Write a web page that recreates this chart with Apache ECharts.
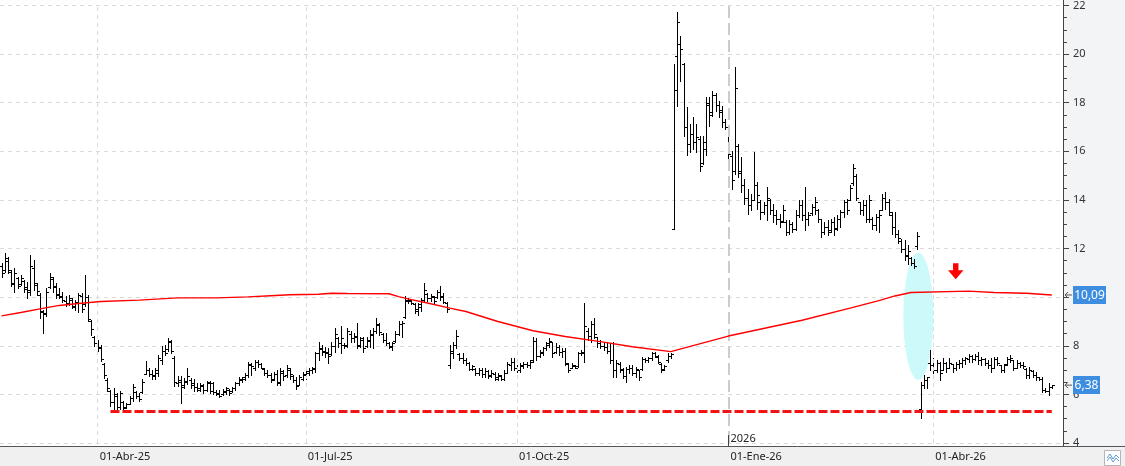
<!DOCTYPE html>
<html>
<head>
<meta charset="utf-8">
<script src="https://cdn.jsdelivr.net/npm/echarts@6/dist/echarts.min.js"></script>
<style>
html,body{margin:0;padding:0;background:#fff;}
#chart{width:1125px;height:466px;}
</style>
</head>
<body>
<div id="chart"></div>
<script>
// dias habiles desde el 18-feb-25
var primerDia = [2025, 1, 18];
var numDias = 332;
var meses = ['Ene','Feb','Mar','Abr','May','Jun','Jul','Ago','Sep','Oct','Nov','Dic'];

// [apertura, cierre, minimo, maximo]
var ohlc = [
  // 0
  [11.30,10.98,10.85,11.39],[11.10,11.60,11.05,11.80],[11.50,11.10,10.98,11.66],[11.05,10.55,10.44,11.12],[10.60,11.00,10.23,11.19],
  [10.80,10.45,10.37,10.85],[10.55,10.80,10.50,10.91],[10.65,10.35,10.23,10.71],[10.40,10.20,9.96,10.64],[10.30,11.30,10.10,11.73],
  // 10
  [11.20,10.60,10.30,11.53],[10.50,10.25,10.10,10.57],[10.10,9.45,9.14,10.16],[9.40,9.35,8.53,9.48],[9.30,10.20,9.21,10.37],
  [10.40,10.85,10.37,10.98],[10.75,10.40,10.23,10.85],[10.45,10.10,9.96,10.57],[10.15,10.05,9.96,10.37],[10.00,9.90,9.82,10.23],
  // 20
  [9.85,9.75,9.62,10.03],[9.75,9.95,9.69,10.10],[9.90,9.65,9.55,9.96],[9.60,9.80,9.48,9.89],[9.80,10.10,9.41,10.16],
  [10.05,9.50,9.41,10.16],[9.70,10.00,9.62,10.91],[10.00,9.10,9.00,10.10],[9.00,8.70,8.46,9.07],[8.35,8.10,7.98,8.39],
  // 30
  [8.10,7.90,7.78,8.25],[7.95,7.45,7.37,8.05],[7.25,6.80,6.68,7.30],[6.60,6.25,6.14,6.68],[6.15,5.70,5.53,6.20],
  [5.70,6.00,5.39,6.28],[5.95,5.50,5.39,6.07],[5.50,6.05,5.39,6.14],[5.70,5.45,5.39,5.73],[5.50,5.60,5.46,5.66],
  // 40
  [5.62,5.85,5.59,5.93],[5.85,6.30,5.73,6.41],[6.10,5.95,5.87,6.14],[5.95,5.80,5.73,6.07],[6.10,6.50,6.07,6.62],
  [6.85,7.00,6.82,7.37],[7.00,6.85,6.75,7.09],[6.85,6.80,6.62,7.02],[6.75,7.00,6.62,7.09],[6.90,7.50,6.75,7.64],
  // 50
  [7.40,7.80,7.23,7.98],[7.80,7.70,7.64,8.05],[7.85,8.15,7.78,8.32],[8.20,7.80,7.71,8.25],[7.50,6.50,6.34,7.57],
  [6.45,6.60,6.34,6.75],[6.50,6.30,5.66,6.75],[6.40,6.55,6.28,6.68],[6.50,6.75,6.41,7.09],[6.60,6.40,6.28,6.68],
  // 60
  [6.45,6.30,6.14,6.62],[6.30,6.20,6.14,6.48],[6.25,6.40,6.14,6.48],[6.35,6.20,6.07,6.41],[6.20,6.50,6.14,6.55],
  [6.45,6.15,6.07,6.55],[6.45,6.10,6.03,6.51],[6.10,6.05,5.96,6.17],[6.00,5.95,5.89,6.17],[6.00,6.15,5.96,6.24],
  // 70
  [6.10,6.25,6.03,6.31],[6.20,6.05,5.96,6.24],[6.15,6.25,6.10,6.31],[6.25,6.45,6.17,6.51],[6.45,6.65,6.38,6.72],
  [6.60,6.70,6.51,6.72],[6.65,6.80,6.58,6.86],[6.80,7.25,6.72,7.34],[7.20,7.15,6.79,7.28],[7.10,7.35,7.00,7.41],
  // 80
  [7.35,7.25,7.14,7.41],[7.25,7.10,7.07,7.28],[7.05,6.90,6.79,7.07],[6.90,6.80,6.72,7.00],[6.80,6.60,6.51,6.86],
  [6.65,6.85,6.58,6.93],[6.85,6.45,6.38,7.00],[6.50,6.95,6.38,7.07],[6.90,6.75,6.58,7.00],[6.80,7.10,6.72,7.21],
  // 90
  [7.00,6.85,6.65,7.07],[6.75,6.60,6.51,6.79],[6.60,6.35,6.24,6.72],[6.40,6.70,6.38,6.79],[6.65,6.85,6.58,6.93],
  [6.80,6.95,6.65,7.00],[6.90,7.00,6.79,7.07],[7.00,7.10,6.86,7.14],[7.05,7.70,6.93,7.76],[7.70,7.90,7.41,8.17],
  // 100
  [7.85,7.75,7.62,8.04],[7.80,7.70,7.55,7.97],[7.75,7.60,7.28,7.90],[7.65,8.00,7.62,8.17],[8.00,8.50,7.76,8.73],
  [8.30,8.10,7.97,8.38],[8.10,8.30,7.69,8.80],[8.05,8.00,7.90,8.11],[8.05,8.60,7.97,8.73],[8.50,8.30,8.17,8.59],
  // 110
  [8.30,8.35,8.17,8.52],[8.40,8.00,7.90,8.94],[8.05,8.30,7.97,8.38],[8.25,7.90,7.76,8.38],[8.00,8.25,7.97,8.38],
  [8.20,8.50,7.97,8.66],[8.45,8.60,7.90,8.73],[8.60,8.90,8.52,9.14],[8.85,8.55,8.45,8.94],[8.50,8.25,8.17,8.52],
  // 120
  [8.25,8.10,8.04,8.52],[8.10,8.00,7.90,8.17],[7.95,8.10,7.83,8.17],[8.20,8.50,8.17,8.59],[8.50,8.90,8.45,9.00],
  [8.90,8.95,8.38,9.00],[9.20,9.90,9.14,10.04],[9.85,9.90,9.76,9.97],[9.85,9.75,9.70,9.90],[9.70,9.50,9.35,9.76],
  // 130
  [9.45,9.70,9.28,9.76],[9.60,9.90,9.42,9.97],[9.90,10.30,9.83,10.59],[10.15,9.95,9.83,10.18],[9.95,10.05,9.83,10.11],
  [10.00,9.85,9.76,10.04],[10.00,10.20,9.96,10.30],[10.20,10.00,9.89,10.44],[10.05,9.80,9.75,10.17],[9.75,9.50,9.41,9.82],
  // 140
  [7.20,7.80,7.07,8.03],[7.70,8.05,7.48,8.17],[8.05,8.40,7.90,8.65],[7.65,7.50,7.41,7.69],[7.50,7.40,7.28,7.69],
  [7.40,7.30,7.21,7.48],[7.30,7.05,7.00,7.35],[7.05,7.15,7.00,7.21],[7.05,6.90,6.80,7.07],[6.90,7.00,6.80,7.07],
  // 150
  [7.00,6.85,6.73,7.07],[6.85,6.95,6.73,7.07],[6.95,6.75,6.66,7.00],[6.80,6.90,6.73,7.00],[6.85,6.65,6.59,6.93],
  [6.70,6.80,6.59,6.86],[6.75,6.62,6.59,6.80],[6.65,6.90,6.59,7.00],[6.90,7.25,6.86,7.35],[7.20,7.35,7.00,7.48],
  // 160
  [7.35,7.10,7.00,7.48],[7.10,7.00,6.93,7.21],[7.00,7.20,6.93,7.28],[7.15,7.25,7.07,7.35],[7.25,7.20,7.14,7.35],
  [7.20,7.35,7.07,7.41],[7.40,8.20,7.35,8.38],[8.20,7.60,7.41,8.31],[7.60,7.75,7.55,7.83],[7.70,7.90,7.62,7.96],
  // 170
  [7.90,8.10,7.83,8.17],[8.05,8.20,7.96,8.31],[8.15,7.70,7.55,8.17],[7.75,7.95,7.69,8.10],[7.95,7.75,7.62,8.03],
  [7.75,7.80,7.55,7.90],[7.80,7.30,7.21,7.90],[7.25,7.00,6.93,7.28],[7.10,7.20,7.07,7.28],[7.15,7.10,7.07,7.21],
  // 180
  [7.15,7.70,7.14,7.76],[7.70,7.75,7.62,7.83],[7.70,8.80,7.35,9.75],[8.60,8.40,8.24,8.72],[8.40,8.90,8.17,9.00],
  [8.90,8.50,8.31,9.13],[8.35,8.10,7.96,8.38],[8.10,8.00,7.90,8.24],[8.00,7.95,7.83,8.17],[7.95,7.80,7.69,8.17],
  // 190
  [7.80,7.40,7.28,8.10],[7.40,7.00,6.73,8.17],[7.00,7.30,6.73,7.41],[7.25,7.05,6.93,7.35],[7.00,6.75,6.66,7.07],
  [6.75,7.05,6.52,7.14],[7.05,7.10,6.86,7.21],[7.10,6.90,6.80,7.21],[6.90,7.05,6.73,7.14],[7.00,6.70,6.59,7.00],
  // 200
  [7.05,7.45,7.00,7.55],[7.45,7.40,7.35,7.48],[7.40,7.50,7.35,7.55],[7.50,7.70,7.41,7.76],[7.70,7.60,7.55,7.76],
  [7.55,7.35,7.28,7.62],[7.25,7.00,6.93,7.28],[7.05,7.15,7.00,7.21],[7.40,7.60,7.35,7.69],[7.60,7.65,7.48,7.69],
  // 210
  [12.82,18.52,12.82,19.58],[19.92,21.32,17.87,21.73],[20.40,20.20,18.90,20.74],[19.60,17.00,16.64,19.65],[17.00,16.30,15.83,17.81],
  [16.30,16.70,15.96,17.12],[16.70,16.40,16.10,17.40],[16.40,16.60,15.96,17.12],[16.50,15.40,15.21,16.64],[15.50,16.40,15.48,16.64],
  // 220
  [16.10,18.00,15.83,18.22],[17.90,17.50,17.05,18.22],[17.60,18.30,17.46,18.49],[18.30,17.90,17.67,18.42],[17.90,17.60,17.40,18.08],
  [17.70,17.20,16.99,17.87],[17.20,17.00,16.92,17.33],[17.00,15.90,15.48,17.05],[15.80,14.80,14.46,16.03],[15.20,18.60,15.07,19.45],
  // 230
  [16.20,15.10,14.94,16.30],[15.20,14.60,14.32,15.76],[14.60,14.10,13.84,14.87],[14.10,13.80,13.43,14.46],[13.80,14.00,13.57,14.25],
  [14.00,14.60,13.98,15.96],[14.60,14.20,13.64,14.73],[13.90,13.50,13.23,13.98],[13.50,13.80,13.43,13.91],[13.80,14.10,13.16,14.53],
  // 240
  [14.00,13.60,13.43,14.05],[13.60,13.40,13.09,13.84],[13.40,13.20,13.02,13.57],[13.20,13.10,12.89,13.43],[13.15,13.60,13.09,13.78],
  [13.10,12.70,12.55,13.16],[12.70,13.00,12.61,13.16],[13.00,12.80,12.68,13.09],[12.80,13.40,12.75,13.57],[13.40,13.80,13.30,13.98],
  // 250
  [13.80,13.40,13.16,13.98],[13.40,13.20,12.75,14.53],[13.20,13.40,12.96,13.50],[13.45,13.70,13.37,13.84],[13.70,13.90,13.43,14.12],
  [13.60,13.20,13.09,13.64],[13.20,12.70,12.48,13.23],[12.70,12.90,12.61,13.09],[12.90,12.70,12.55,13.16],[12.75,13.10,12.68,13.23],
  // 260
  [13.10,12.80,12.55,13.30],[12.85,13.20,12.75,13.37],[13.20,13.50,12.89,13.57],[13.50,13.90,13.30,13.98],[13.90,13.60,13.43,14.05],
  [14.00,14.50,13.98,14.60],[14.70,15.30,14.60,15.48],[15.00,14.10,13.98,15.07],[13.90,13.60,13.43,13.91],[13.60,13.80,13.37,13.98],
  // 270
  [13.80,13.20,13.09,13.98],[13.20,14.00,13.09,14.19],[13.20,12.95,12.82,13.30],[12.95,13.30,12.75,13.43],[13.30,13.40,12.68,13.57],
  [13.60,14.10,13.57,14.25],[14.10,13.90,13.64,14.32],[13.90,13.50,13.37,14.05],[13.40,12.90,12.61,13.50],[12.90,12.60,12.48,13.50],
  // 280
  [12.60,12.45,12.21,12.75],[12.30,12.00,11.86,12.41],[12.00,11.70,11.52,12.34],[11.75,11.90,11.38,12.14],[11.60,11.40,11.32,11.66],
  [11.40,11.30,11.18,11.59],[12.10,12.50,12.00,12.68],[5.40,6.40,5.01,6.52],[6.40,6.60,6.25,6.79],[6.60,6.70,6.25,6.73],
  // 290
  [7.30,7.20,7.00,7.82],[7.20,7.00,6.86,7.48],[7.00,7.30,6.93,7.41],[7.30,6.90,6.59,7.34],[7.00,7.30,7.00,7.48],
  [7.30,7.10,6.93,7.34],[7.10,7.30,7.07,7.48],[7.25,7.10,6.93,7.27],[7.10,7.25,7.00,7.34],[7.25,7.30,7.07,7.41],
  // 300
  [7.30,7.40,7.14,7.48],[7.40,7.50,7.27,7.55],[7.45,7.60,7.34,7.68],[7.60,7.45,7.34,7.62],[7.45,7.60,7.41,7.68],
  [7.60,7.40,7.27,7.75],[7.40,7.45,7.21,7.55],[7.45,7.30,7.21,7.48],[7.30,7.20,7.07,7.41],[7.20,7.10,6.93,7.48],
  // 310
  [7.10,7.45,7.07,7.55],[7.45,7.30,7.21,7.55],[7.20,7.00,6.93,7.21],[7.00,7.20,6.93,7.27],[7.25,7.45,7.21,7.55],
  [7.45,7.50,7.34,7.62],[7.40,7.10,7.00,7.41],[7.10,7.30,7.07,7.41],[7.30,7.20,7.14,7.34],[7.20,7.15,7.07,7.34],
  // 320
  [7.05,6.80,6.66,7.07],[6.80,7.00,6.66,7.14],[6.95,6.80,6.73,7.00],[6.80,6.70,6.59,6.93],[6.70,6.65,6.59,6.73],
  [6.65,6.20,6.11,6.73],[6.20,6.15,6.11,6.25],[6.15,6.30,5.97,6.45],[6.30,6.38,6.25,6.38]
];

// media movil (indice de sesion, valor)
var mmIdx = [0,6,12,18,24,31,43,55,67,77,84,90,99,103,108,121,124,128,133,140,145,155,166,176,187,197,209,227,250,265,274,279,284,302,310,320,328];
var mmVal = [9.23,9.37,9.52,9.66,9.74,9.82,9.88,9.97,9.97,10.01,10.06,10.10,10.12,10.16,10.15,10.14,10.02,9.90,9.76,9.55,9.41,9.00,8.62,8.38,8.17,7.96,7.76,8.40,9.05,9.55,9.86,10.05,10.19,10.25,10.19,10.16,10.09];

// soporte (linea roja discontinua)
var soporte = 5.30;
var soporteDesde = 34;
var soporteHasta = 328;

// anotaciones
var ovaloIdx = 286, ovaloVal = 9.21;
var flechaIdx = 298, flechaVal = 11.4;
var ultimoMM = 10.09;
var ultimoCierre = 6.38;
var marcaAnio = '2026-01-01';

var fuente = '"Noto Sans", sans-serif';

// categorias: solo lunes a viernes
var fechas = [];
var d = new Date(Date.UTC(primerDia[0], primerDia[1], primerDia[2]));
while (fechas.length < numDias) {
    var wd = d.getUTCDay();
    if (wd != 0 && wd != 6) fechas.push(d.toISOString().slice(0, 10));
    d.setUTCDate(d.getUTCDate() + 1);
}

function inicioTrimestre(i, v) {
    v = v || fechas[i];
    return v.slice(8) == '01' && ['01','04','07','10'].indexOf(v.slice(5, 7)) >= 0;
}

function etiquetaFecha(v) {
    return v.slice(8) + '-' + meses[+v.slice(5, 7) - 1] + '-' + v.slice(2, 4);
}

function dibujaBarra(params, api) {
    var i = api.value(0);
    var pO = api.coord([i, api.value(1)]);
    var pC = api.coord([i, api.value(2)]);
    var pL = api.coord([i, api.value(3)]);
    var pH = api.coord([i, api.value(4)]);
    var x = Math.round(pO[0]) + 0.5;
    var yO = Math.round(pO[1]) + 0.5;
    var yC = Math.round(pC[1]) + 0.5;
    var st = {stroke: '#000', lineWidth: 1};
    return {
        type: 'group',
        children: [
            {type: 'line', shape: {x1: x, y1: Math.round(pH[1]), x2: x, y2: Math.round(pL[1]) + 1}, style: st},
            {type: 'line', shape: {x1: x - 2.5, y1: yO, x2: x, y2: yO}, style: st},
            {type: 'line', shape: {x1: x, y1: yC, x2: x + 2.5, y2: yC}, style: st}
        ]
    };
}

var datosBarras = ohlc.map(function (b, i) { return [i, b[0], b[1], b[2], b[3]]; });
var datosMM = mmIdx.map(function (ix, k) { return [ix, mmVal[k]]; });

var lineasTrimestre = fechas.filter(function (f, i) { return inicioTrimestre(i, f) && f != marcaAnio; }).map(function (f) {
    return {xAxis: f, lineStyle: {color: '#dadada', width: 1, type: [4, 4]}};
});

var chart = echarts.init(document.getElementById('chart'));

var option = {
    animation: false,
    backgroundColor: '#fff',
    textStyle: {fontFamily: fuente},
    grid: {left: 0, right: 62, top: 4, bottom: 23},
    xAxis: {
        type: 'category',
        data: fechas,
        boundaryGap: true,
        offset: 3,
        axisLine: {lineStyle: {color: '#555'}},
        axisTick: {alignWithLabel: true, interval: inicioTrimestre, length: 9, lineStyle: {color: '#444'}},
        axisLabel: {
            interval: inicioTrimestre, formatter: etiquetaFecha, align: 'left', margin: 5,
            padding: [0, 0, 0, 2], color: '#222', fontSize: 11, fontFamily: fuente
        },
        splitLine: {show: false}
    },
    yAxis: {
        type: 'value',
        position: 'right',
        min: 4,
        max: 22,
        interval: 2,
        axisLine: {show: true, lineStyle: {color: '#444'}},
        axisTick: {show: true, length: 6, lineStyle: {color: '#444'}},
        minorTick: {show: true, splitNumber: 4, length: 4, lineStyle: {color: '#444'}},
        axisLabel: {color: '#333', fontSize: 11, margin: 10, fontFamily: fuente},
        splitLine: {show: true, lineStyle: {color: '#dadada', type: [4, 4]}}
    },
    series: [
        {
            type: 'custom',
            name: 'OHLC',
            renderItem: dibujaBarra,
            data: datosBarras,
            encode: {x: 0, y: [1, 2, 3, 4]},
            z: 4
        },
        {
            type: 'line',
            name: 'MM',
            data: datosMM,
            showSymbol: false,
            lineStyle: {color: '#ff0000', width: 1.4},
            z: 5,
            markLine: {
                silent: true,
                symbol: 'none',
                label: {show: false},
                data: lineasTrimestre.concat([
                    {xAxis: marcaAnio, lineStyle: {color: '#cccccc', width: 2, type: [12, 5]}},
                    [
                        {coord: [fechas[soporteDesde], soporte], lineStyle: {color: '#f01414', width: 3, type: [9, 3]}},
                        {coord: [fechas[soporteHasta], soporte]}
                    ]
                ])
            }
        }
    ]
};

chart.setOption(option);

var pOvalo = chart.convertToPixel({gridIndex: 0}, [ovaloIdx, ovaloVal]);
var pFlecha = chart.convertToPixel({gridIndex: 0}, [flechaIdx, flechaVal]);
var yMM = chart.convertToPixel({yAxisIndex: 0}, ultimoMM);
var yCierre = chart.convertToPixel({yAxisIndex: 0}, ultimoCierre);
var xAnio = Math.round(chart.convertToPixel({xAxisIndex: 0}, marcaAnio)) + 0.5;

function etiquetaPrecio(y, v, ancho) {
    var txt = v.toFixed(2).replace('.', ',');
    return [
        {type: 'polyline', z: 60, shape: {points: [[1072, y], [1065, y]]}, style: {stroke: '#555', lineWidth: 1}},
        {type: 'polyline', z: 60, shape: {points: [[1068, y - 3], [1065, y], [1068, y + 3]]}, style: {stroke: '#555', fill: null, lineWidth: 1}},
        {type: 'rect', z: 60, shape: {x: 1073, y: Math.round(y) - 9, width: ancho, height: 18}, style: {fill: '#3d8ee0'}},
        {type: 'text', z: 61, x: 1073 + ancho / 2, y: Math.round(y) + 0.5,
            style: {text: txt, fill: '#fff', font: '12px ' + fuente, align: 'center', verticalAlign: 'middle'}}
    ];
}

var fx = pFlecha[0], fy = pFlecha[1];

chart.setOption({
    graphic: [
        {type: 'rect', z: -10, shape: {x: 1064, y: 0, width: 61, height: 446}, style: {fill: '#f3f4f6'}},
        {type: 'rect', z: -10, shape: {x: 0, y: 446, width: 1125, height: 20}, style: {fill: '#f0f0f0'}},
        {type: 'line', z: 10, shape: {x1: 1063.5, y1: 0, x2: 1063.5, y2: 446}, style: {stroke: '#444', lineWidth: 1}},
        {type: 'line', z: 10, shape: {x1: 1063, y1: 446.5, x2: 1125, y2: 446.5}, style: {stroke: '#555', lineWidth: 1}},
        {type: 'line', z: 10, shape: {x1: xAnio, y1: 435, x2: xAnio, y2: 446}, style: {stroke: '#444', lineWidth: 1}},
        {type: 'text', z: 10, x: xAnio + 2, y: 439,
            style: {text: marcaAnio.slice(0, 4), fill: '#222', font: '11px ' + fuente, align: 'left', verticalAlign: 'middle'}},
        {type: 'circle', z: 1, x: pOvalo[0] + 1, y: pOvalo[1], scaleX: 15 / 63.5,
            shape: {cx: 0, cy: 0, r: 63.5}, style: {fill: '#ccfafa'}},
        {type: 'polygon', z: 60, shape: {points: [
            [fx - 2.7, fy], [fx + 2.7, fy], [fx + 2.7, fy + 7], [fx + 7.7, fy + 7],
            [fx, fy + 16], [fx - 7.7, fy + 7], [fx - 2.7, fy + 7]
        ]}, style: {fill: '#ff0000'}},
        {type: 'rect', z: 60, shape: {x: 1104.5, y: 450.5, width: 16, height: 15}, style: {fill: '#fff', stroke: '#b5b5b5', lineWidth: 1}},
        {type: 'polyline', z: 61, shape: {points: [[1107, 458], [1110, 454], [1113, 459], [1116, 455], [1119, 458]]},
            style: {stroke: '#5b9bd5', fill: null, lineWidth: 1}},
        {type: 'polyline', z: 61, shape: {points: [[1107, 461], [1110, 457], [1113, 462], [1116, 458], [1119, 461]]},
            style: {stroke: '#5b9bd5', fill: null, lineWidth: 1}}
    ].concat(etiquetaPrecio(yMM, ultimoMM, 33)).concat(etiquetaPrecio(yCierre, ultimoCierre, 27))
});
</script>
</body>
</html>
